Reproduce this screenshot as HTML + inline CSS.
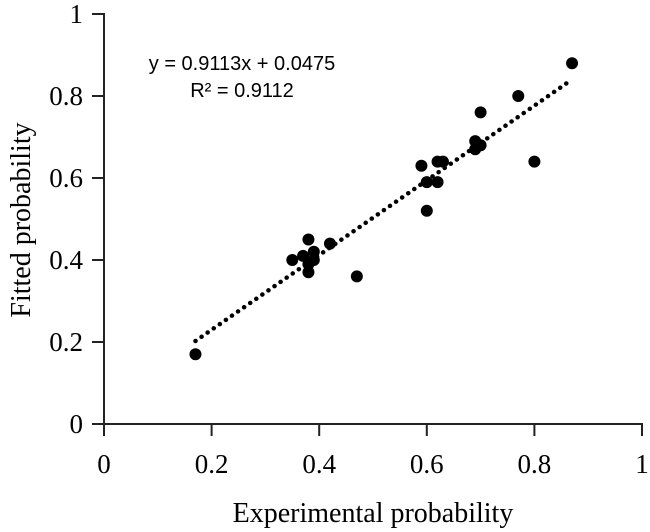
<!DOCTYPE html>
<html><head><meta charset="utf-8"><style>
html,body{margin:0;padding:0;background:#fff;}
svg{display:block;}
</style></head><body>
<svg id="chart" width="650" height="532" viewBox="0 0 650 532" xmlns="http://www.w3.org/2000/svg">
<g id="axes"></g>
<g id="trend"></g>
<g id="points"></g>
<text x="242" y="70" text-anchor="middle" font-family="Liberation Sans, sans-serif" font-size="20">y = 0.9113x + 0.0475</text>
<text x="242" y="97" text-anchor="middle" font-family="Liberation Sans, sans-serif" font-size="20">R² = 0.9112</text>
<text x="373" y="522" text-anchor="middle" font-family="Liberation Serif, serif" font-size="28">Experimental probability</text>
<text transform="translate(30,220) rotate(-90)" text-anchor="middle" font-family="Liberation Serif, serif" font-size="28">Fitted probability</text>
</svg>
<script>
const xVals=[0.17,0.35,0.37,0.38,0.38,0.38,0.39,0.39,0.42,0.47,0.59,0.60,0.60,0.62,0.62,0.63,0.69,0.69,0.70,0.70,0.77,0.80,0.87];
const yVals=[0.17,0.40,0.41,0.45,0.39,0.37,0.42,0.40,0.44,0.36,0.63,0.59,0.52,0.59,0.64,0.64,0.69,0.67,0.68,0.76,0.80,0.64,0.88];
const xTicks=[0,0.2,0.4,0.6,0.8,1];
const yTicks=[0,0.2,0.4,0.6,0.8,1];
const xTickLabels=["0","0.2","0.4","0.6","0.8","1"];
const yTickLabels=["0","0.2","0.4","0.6","0.8","1"];
const slope=0.9113, intercept=0.0475;
const NS="http://www.w3.org/2000/svg";
const X0=104,XS=538,Y0=424,YS=410;
const sx=v=>X0+v*XS, sy=v=>Y0-v*YS;
function mk(tag,attrs,parent){const e=document.createElementNS(NS,tag);for(const k in attrs)e.setAttribute(k,attrs[k]);parent.appendChild(e);return e;}
const ax=document.getElementById('axes');
let l=mk('line',{x1:sx(0),y1:sy(0),x2:sx(1),y2:sy(0),stroke:'#222','stroke-width':2},ax);


l=mk('line',{x1:sx(0),y1:sy(0),x2:sx(0),y2:sy(1),stroke:'#222','stroke-width':2},ax);


xTicks.forEach((v,i)=>{
 const t=mk('line',{x1:sx(v),y1:Y0-1,x2:sx(v),y2:Y0+12,stroke:'#222','stroke-width':2},ax);
 
 
 const tx=mk('text',{x:sx(v),y:473,'text-anchor':'middle','font-family':'Liberation Serif, serif','font-size':27},ax);
 tx.textContent=xTickLabels[i];
 
 
});
yTicks.forEach((v,i)=>{
 const t=mk('line',{x1:X0-12,y1:sy(v),x2:X0+1,y2:sy(v),stroke:'#222','stroke-width':2},ax);
 
 
 const tx=mk('text',{x:83,y:sy(v)+9,'text-anchor':'end','font-family':'Liberation Serif, serif','font-size':27},ax);
 tx.textContent=yTickLabels[i];
 
 
});
const tr=document.getElementById('trend');
const xmin=Math.min(...xVals), xmax=Math.max(...xVals);
const tl=mk('line',{x1:sx(xmin),y1:sy(slope*xmin+intercept),x2:sx(xmax),y2:sy(slope*xmax+intercept),stroke:'#000','stroke-width':4.5,'stroke-dasharray':'0.1 7.3','stroke-linecap':'round'},tr);


const pg=document.getElementById('points');
xVals.forEach((x,i)=>{
 const c=mk('circle',{cx:sx(x),cy:sy(yVals[i]),r:6,fill:'#000'},pg);
 
 
});
</script>
</body></html>
